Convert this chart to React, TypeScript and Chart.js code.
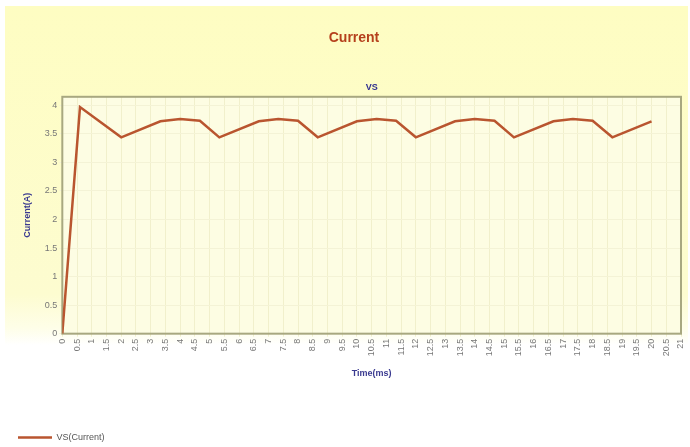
import React, { useEffect, useRef } from "react";
import { Chart, registerables } from "chart.js";

Chart.register(...registerables);

const timeMs = [0, 0.6, 2, 3.33, 4, 4.67, 5.33, 6.67, 7.33, 8, 8.67, 10, 10.67, 11.33, 12, 13.33, 14, 14.67, 15.33, 16.67, 17.33, 18, 18.67, 20];
const currentA = [0, 3.97, 3.44, 3.72, 3.76, 3.73, 3.44, 3.72, 3.76, 3.73, 3.44, 3.72, 3.76, 3.73, 3.44, 3.72, 3.76, 3.73, 3.44, 3.72, 3.76, 3.73, 3.44, 3.72];
const yTickValues = [0, 0.5, 1, 1.5, 2, 2.5, 3, 3.5, 4];
const seriesLabel = "VS(Current)";
const chartTitle = "Current";
const chartSubtitle = "VS";
const xTitle = "Time(ms)";
const yTitle = "Current(A)";

const FONT = "Liberation Sans, Arial, sans-serif";

const bgPlugin = {
  id: "bgPlugin",
  beforeDraw(chart: any) {
    const { ctx, chartArea } = chart;
    ctx.save();
    const g = ctx.createLinearGradient(0, 6, 0, 345);
    g.addColorStop(0, "#fefdc2");
    g.addColorStop(0.85, "#fdfcd0");
    g.addColorStop(0.95, "#fefee8");
    g.addColorStop(1, "#ffffff");
    ctx.fillStyle = g;
    ctx.fillRect(5, 6, 683, 339);
    ctx.fillStyle = "#fdfde3";
    ctx.fillRect(chartArea.left, chartArea.top, chartArea.right - chartArea.left, chartArea.bottom - chartArea.top);
    ctx.restore();
  },
  beforeDatasetsDraw(chart: any) {
    const { ctx, chartArea } = chart;
    ctx.save();
    ctx.strokeStyle = "#a8a880";
    ctx.lineWidth = 2;
    ctx.strokeRect(chartArea.left, chartArea.top, chartArea.right - chartArea.left, chartArea.bottom - chartArea.top);
    ctx.fillStyle = "#2f2f8f";
    ctx.font = "bold 9px " + FONT;
    ctx.textAlign = "center";
    ctx.textBaseline = "middle";
    ctx.fillText(chartSubtitle, (chartArea.left + chartArea.right) / 2, chartArea.top - 9);
    ctx.restore();
  },
};

export default function App() {
  const ref = useRef<HTMLCanvasElement>(null);
  useEffect(() => {
    const chart = new Chart(ref.current!, {
      type: "line",
      data: {
        datasets: [
          {
            label: seriesLabel,
            data: timeMs.map((t, i) => ({ x: t, y: currentA[i] })),
            borderColor: "#b9552f",
            backgroundColor: "#b9552f",
            borderWidth: 2.5,
            pointRadius: 0,
            tension: 0,
          },
        ],
      },
      options: {
        animation: false,
        responsive: false,
        maintainAspectRatio: false,
        layout: { padding: { left: 18, right: 0, top: 0, bottom: -5 } },
        plugins: {
          title: {
            display: true,
            text: chartTitle,
            color: "#b5401c",
            font: { family: FONT, size: 14, weight: "bold" },
            padding: { top: 30, bottom: 50 },
          },
          legend: {
            display: true,
            position: "bottom",
            align: "start",
            labels: {
              usePointStyle: true,
              pointStyle: "line",
              pointStyleWidth: 34,
              boxHeight: 2,
              color: "#555555",
              font: { family: FONT, size: 9 },
              padding: 0,
            },
          },
          tooltip: { enabled: false },
        },
        scales: {
          x: {
            type: "linear",
            min: 0,
            max: 21,
            afterFit: (scale: any) => {
              scale.paddingRight = 9;
            },
            grid: { color: "#f1f0cc", lineWidth: 1, drawTicks: true, tickLength: 3 },
            border: { display: false },
            ticks: {
              stepSize: 0.5,
              maxTicksLimit: 100,
              autoSkip: false,
              maxRotation: 90,
              minRotation: 90,
              color: "#777777",
              font: { family: FONT, size: 9 },
              padding: 2,
              callback: (v: any) => String(v),
            },
            title: {
              display: true,
              text: xTitle,
              color: "#3a3a90",
              font: { family: FONT, size: 9, weight: "bold" },
              padding: { top: 10, bottom: 54 },
            },
          },
          y: {
            type: "linear",
            min: 0,
            max: 4.15,
            afterBuildTicks: (scale: any) => {
              scale.ticks = yTickValues.map((v) => ({ value: v }));
            },
            grid: { color: "#f4f3d6", lineWidth: 1, tickLength: 3 },
            border: { display: false },
            ticks: {
              color: "#777777",
              font: { family: FONT, size: 9 },
              padding: 2,
              callback: (v: any) => String(v),
            },
            title: {
              display: true,
              text: yTitle,
              color: "#3a3a90",
              font: { family: FONT, size: 9, weight: "bold" },
              padding: { top: 4, bottom: 10 },
            },
          },
        },
      },
      plugins: [bgPlugin],
    } as any);
    return () => chart.destroy();
  }, []);
  return (
    <div style={{ position: "absolute", left: 0, top: 0, width: 690, height: 447, background: "#ffffff" }}>
      <canvas ref={ref} width={690} height={447} style={{ width: 690, height: 447 }} />
    </div>
  );
}
